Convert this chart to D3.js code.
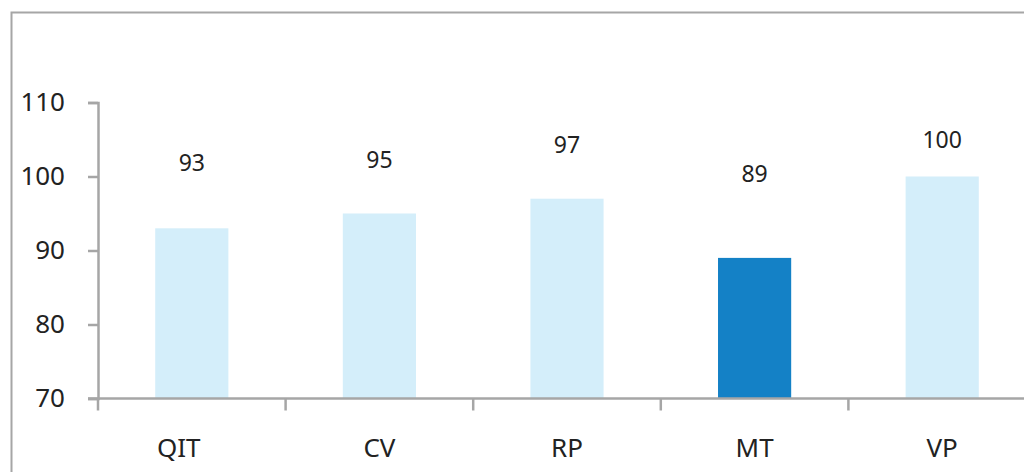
<!DOCTYPE html>
<html>
<head>
<meta charset="utf-8">
<script src="https://cdn.jsdelivr.net/npm/d3@7"></script>
<style>
  html, body { margin: 0; padding: 0; background: #fff; }
  svg { display: block; font-family: "Noto Sans", sans-serif; }
</style>
</head>
<body>
<svg id="svg" width="1024" height="472"></svg>
<script>
// datos del grafico
const categories = ["QIT", "CV", "RP", "MT", "VP"];
const values = [93, 95, 97, 89, 100];
// nivel (en unidades del eje) donde va cada etiqueta de valor
const labelLevels = [101.8, 102.2, 104.2, 100.3, 104.9];
const highlight = "MT";
const yTicks = [70, 80, 90, 100, 110];

const svg = d3.select("#svg");
const margin = {top: 102.5, right: -12, bottom: 73.5, left: 98};
const width = +svg.attr("width");
const height = +svg.attr("height");

// marco exterior
svg.append("path")
  .attr("d", `M11.5,${height}V12.5H${width}`)
  .attr("fill", "none")
  .attr("stroke", "#a6a6a6")
  .attr("stroke-width", 2);

const x = d3.scaleBand()
  .domain(categories)
  .range([margin.left, width - margin.right])
  .paddingInner(0.61)
  .paddingOuter(0.305);

// limites de cada categoria para las marcas del eje x
const xEdge = d3.scaleLinear()
  .domain([0, categories.length])
  .range([margin.left, width - margin.right]);

const y = d3.scaleLinear()
  .domain([70, 110])
  .range([height - margin.bottom, margin.top]);

// barras
svg.append("g")
  .selectAll("rect")
  .data(categories)
  .join("rect")
  .attr("x", d => x(d))
  .attr("width", x.bandwidth())
  .attr("y", (d, i) => y(values[i]))
  .attr("height", (d, i) => y(70) - y(values[i]))
  .attr("fill", d => d === highlight ? "#1481c6" : "#d4eefa");

// eje y
const yAxis = svg.append("g")
  .attr("transform", `translate(${margin.left},0)`)
  .call(d3.axisLeft(y).tickValues(yTicks).tickSize(10).tickPadding(23));
yAxis.selectAll(".domain").attr("stroke", "#a6a6a6").attr("stroke-width", 2.5);
yAxis.selectAll(".tick line").attr("stroke", "#a6a6a6").attr("stroke-width", 2.5);
yAxis.selectAll(".tick text")
  .attr("font-size", 26)
  .attr("fill", "#222")
  .attr("font-family", "Noto Sans");

// eje x: linea y marcas entre categorias
const xg = svg.append("g");
xg.append("line")
  .attr("x1", margin.left - 10)
  .attr("x2", width - margin.right)
  .attr("y1", y(70))
  .attr("y2", y(70))
  .attr("stroke", "#a6a6a6")
  .attr("stroke-width", 2.5);
xg.selectAll(".edge")
  .data(d3.range(categories.length + 1))
  .join("line")
  .attr("class", "edge")
  .attr("x1", d => xEdge(d))
  .attr("x2", d => xEdge(d))
  .attr("y1", y(70))
  .attr("y2", y(70) + 12)
  .attr("stroke", "#a6a6a6")
  .attr("stroke-width", 2.5);
xg.selectAll(".cat")
  .data(categories)
  .join("text")
  .attr("class", "cat")
  .attr("x", d => x(d) + x.bandwidth() / 2)
  .attr("dx", (d, i) => i === 0 ? -13 : 0)
  .attr("y", y(70) + 58)
  .attr("text-anchor", "middle")
  .attr("font-size", 26)
  .attr("fill", "#222")
  .text(d => d);

// etiquetas de valor
svg.append("g")
  .selectAll("text")
  .data(categories)
  .join("text")
  .attr("x", d => x(d) + x.bandwidth() / 2)
  .attr("y", (d, i) => y(labelLevels[i]))
  .attr("dy", "0.35em")
  .attr("text-anchor", "middle")
  .attr("font-size", 23)
  .attr("fill", "#222")
  .text((d, i) => values[i]);
</script>
</body>
</html>
